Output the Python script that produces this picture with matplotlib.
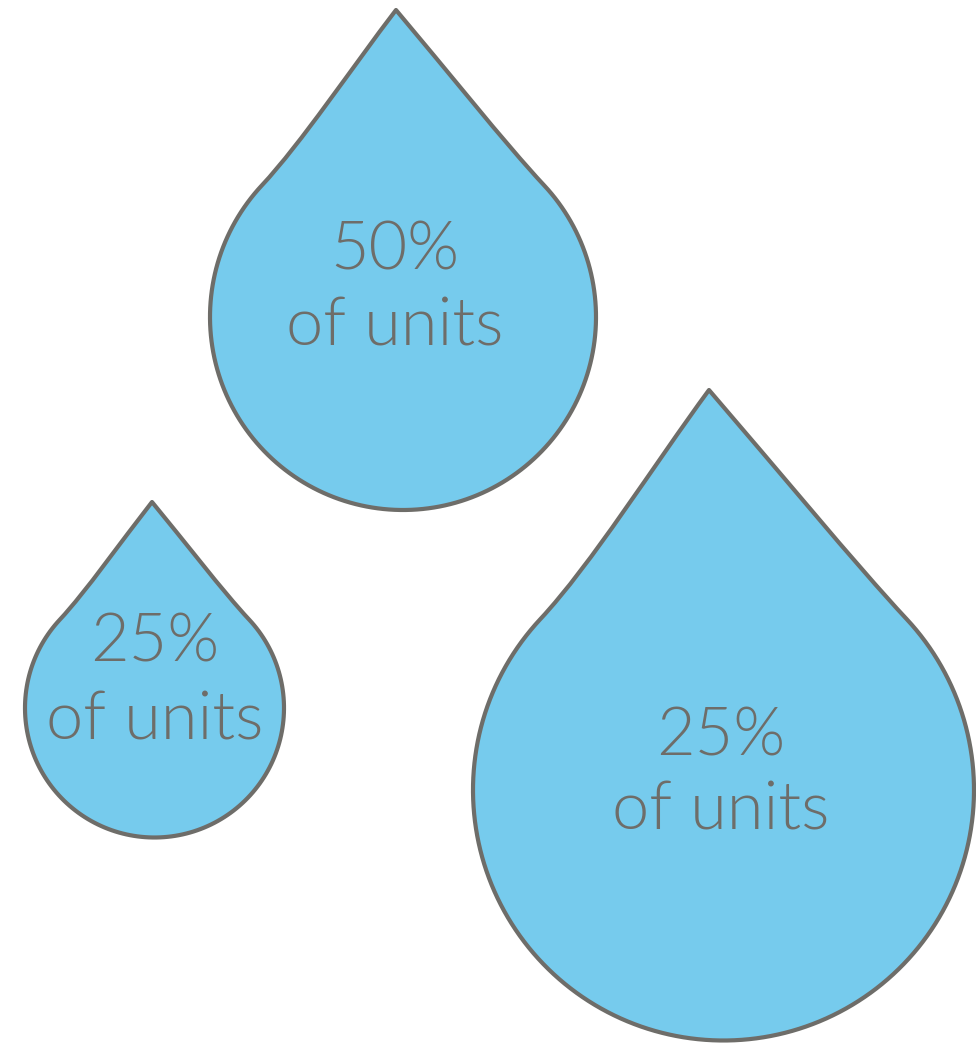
import numpy as np
import matplotlib.pyplot as plt
from matplotlib.path import Path
from matplotlib.patches import PathPatch

# data
shares = [50, 25, 25]
captions = ["of units", "of units", "of units"]

# layout of the drops (pixel coordinates, y down)
centers = [(403, 317), (154.5, 708), (723.5, 790)]
radii = [193, 129.5, 250.5]
tip_pts = [(396, 10), (152, 502), (709, 390)]
pct_base = [270, 662, 755]
cap_base = [346, 740, 829]
text_x = [395, 155, 721]

FILL = "#76cbed"
EDGE = "#6e6d69"
TEXT = "#6e6d69"


def drop_path(c, r, tip, a=np.radians(47)):
    cx, cy = c
    tx, ty = tip
    lj = np.array([cx - r * np.sin(a), cy - r * np.cos(a)])
    rj = np.array([cx + r * np.sin(a), cy - r * np.cos(a)])
    t = np.array([tx, ty])
    k = 0.3 * r
    verts = [t]
    codes = [Path.MOVETO]
    # tip -> left join
    cp1 = t + 0.33 * (lj - t)
    cp2 = lj + k * np.array([np.cos(a), -np.sin(a)])
    verts += [cp1, cp2, lj]
    codes += [Path.CURVE4] * 3
    # round bottom
    phi = np.linspace(a, 2 * np.pi - a, 160)[1:]
    for p in phi:
        verts.append([cx - r * np.sin(p), cy - r * np.cos(p)])
        codes.append(Path.LINETO)
    # right join -> tip
    cp1 = rj + k * np.array([-np.cos(a), -np.sin(a)])
    cp2 = t + 0.33 * (rj - t)
    verts += [cp1, cp2, t]
    codes += [Path.CURVE4] * 3
    verts.append(t)
    codes.append(Path.CLOSEPOLY)
    return Path(np.array(verts, dtype=float), codes)


fig = plt.figure(figsize=(9.76, 10.44), dpi=100)
ax = fig.add_axes([0, 0, 1, 1])
ax.set_xlim(0, 976)
ax.set_ylim(1044, 0)
ax.axis("off")

for i in range(len(shares)):
    p = drop_path(centers[i], radii[i], tip_pts[i])
    ax.add_patch(PathPatch(p, facecolor=FILL, edgecolor=EDGE, lw=3.0,
                           joinstyle="round"))
    ax.text(text_x[i], pct_base[i], f"{shares[i]}%", ha="center", va="baseline",
            fontsize=48, color=TEXT, family="Lato", fontweight=300)
    ax.text(text_x[i], cap_base[i], captions[i], ha="center", va="baseline",
            fontsize=48, color=TEXT, family="Lato", fontweight=300)

fig.savefig("out.png", dpi=100)
